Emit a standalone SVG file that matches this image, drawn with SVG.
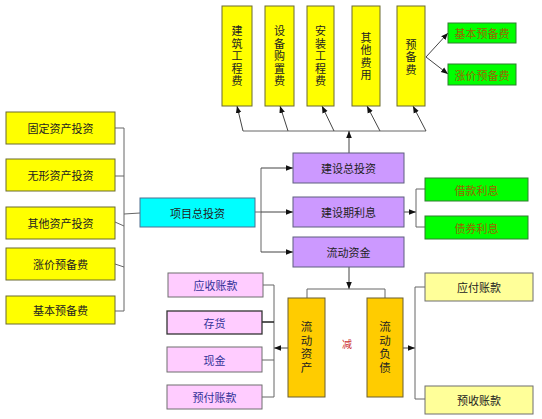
<svg xmlns="http://www.w3.org/2000/svg" width="542" height="419" viewBox="0 0 542 419">
<style>
text{font-family:"Noto Sans CJK SC","Noto Sans",sans-serif;font-size:11px;text-anchor:middle;dominant-baseline:central;fill:#222}
.v{writing-mode:tb;glyph-orientation-vertical:0;letter-spacing:1.5px}
.v2{writing-mode:tb;glyph-orientation-vertical:0;letter-spacing:2px;font-size:11.5px}
.y{fill:#FFFF00;stroke:#6b6b30;stroke-width:1}
.g{fill:#00FF00;stroke:#2f7f2f;stroke-width:1}
.gt{fill:#996600}
.p{fill:#CC99FF;stroke:#5f5f7f;stroke-width:1}
.c{fill:#00FFFF;stroke:#4f6f8f;stroke-width:1}
.k{fill:#FFCCFF;stroke:#6f6f6f;stroke-width:1}
.kt{fill:#333399}
.o{fill:#FFCC00;stroke:#6b5f30;stroke-width:1}
.ly{fill:#FFFF99;stroke:#6f6f6f;stroke-width:1}
.ln{fill:none;stroke:#666;stroke-width:1}
.ar{fill:none;stroke:#444;stroke-width:1;marker-end:url(#ah)}
</style>
<defs>
<marker id="ah" viewBox="0 0 10 10" refX="10" refY="5" markerWidth="7" markerHeight="7" orient="auto" markerUnits="userSpaceOnUse">
<path d="M0,1 L10,5 L0,9 z" fill="#111"/>
</marker>
</defs>
<rect width="542" height="419" fill="#fff"/>
<g id="connectors">
<polyline class="ln" points="243,131 426,131"/>
<line class="ar" x1="243" y1="131" x2="237" y2="106"/>
<line class="ar" x1="288" y1="131" x2="280" y2="106"/>
<line class="ar" x1="334" y1="131" x2="322" y2="106"/>
<line class="ar" x1="380" y1="131" x2="367" y2="106"/>
<line class="ar" x1="426" y1="131" x2="413" y2="106"/>
<line class="ar" x1="349" y1="153" x2="349" y2="131"/>
<line class="ar" x1="426" y1="57" x2="448" y2="33"/>
<line class="ar" x1="426" y1="57" x2="448" y2="74"/>
<polyline class="ln" points="115,128 124,128 124,311 115,311"/>
<line class="ln" x1="115" y1="176" x2="124" y2="176"/>
<line class="ln" x1="115" y1="222" x2="124" y2="226"/>
<line class="ln" x1="115" y1="264" x2="124" y2="267"/>
<line class="ln" x1="124" y1="214" x2="140" y2="213"/>
<line class="ln" x1="255" y1="212" x2="261" y2="212"/>
<polyline class="ln" points="261,168 261,252"/>
<line class="ar" x1="261" y1="168" x2="293" y2="168"/>
<line class="ar" x1="261" y1="212" x2="293" y2="212"/>
<line class="ar" x1="261" y1="252" x2="293" y2="252"/>
<line class="ar" x1="404" y1="212" x2="416" y2="212"/>
<polyline class="ln" points="425,189 416,189 416,227 425,227"/>
<line class="ar" x1="349" y1="267" x2="349" y2="289"/>
<polyline class="ln" points="307,298 307,289 385,289 385,298"/>
<line class="ar" x1="288" y1="348" x2="274" y2="348"/>
<polyline class="ln" points="263,285 274,285 274,397 262,397"/>
<line class="ln" x1="262" y1="322" x2="274" y2="322" style="stroke:#222;stroke-width:1.5"/>
<line class="ln" x1="262" y1="360" x2="274" y2="360"/>
<line class="ar" x1="403" y1="348" x2="415" y2="348"/>
<polyline class="ln" points="425,287 415,287 415,399 425,399"/>
</g>
<g id="n_jzgcf"><rect class="y" x="222" y="6" width="30" height="100"/><text class="v" x="237" y="57">建筑工程费</text></g>
<g id="n_sbgzf"><rect class="y" x="265" y="6" width="29" height="100"/><text class="v" x="279.5" y="57">设备购置费</text></g>
<g id="n_azgcf"><rect class="y" x="307" y="6" width="27" height="100"/><text class="v" x="320.5" y="57">安装工程费</text></g>
<g id="n_qtfy"><rect class="y" x="352" y="6" width="28" height="100"/><text class="v" x="366" y="57">其他费用</text></g>
<g id="n_ybf"><rect class="y" x="397" y="6" width="28" height="100"/><text class="v" x="411" y="58">预备费</text></g>
<g id="n_jbybf_top"><rect class="g" x="448" y="23" width="68" height="20"/><text class="gt" x="482" y="33">基本预备费</text></g>
<g id="n_zjybf_top"><rect class="g" x="448" y="64" width="68" height="21"/><text class="gt" x="482" y="74.5">涨价预备费</text></g>
<g id="n_gdzc"><rect class="y" x="6" y="112" width="109" height="32"/><text x="60.5" y="128">固定资产投资</text></g>
<g id="n_wxzc"><rect class="y" x="6" y="159" width="109" height="32"/><text x="60.5" y="175">无形资产投资</text></g>
<g id="n_qtzc"><rect class="y" x="6" y="207" width="109" height="32"/><text x="60.5" y="223">其他资产投资</text></g>
<g id="n_zjybf"><rect class="y" x="6" y="248" width="109" height="32"/><text x="60.5" y="264">涨价预备费</text></g>
<g id="n_jbybf"><rect class="y" x="6" y="296" width="109" height="28"/><text x="60.5" y="310">基本预备费</text></g>
<g id="n_xmztz"><rect class="c" x="140" y="198" width="115" height="29"/><text x="197.5" y="212.5">项目总投资</text></g>
<g id="n_jsztz"><rect class="p" x="293" y="153" width="111" height="30"/><text x="348.5" y="168">建设总投资</text></g>
<g id="n_jsqlx"><rect class="p" x="293" y="197" width="111" height="30"/><text x="348.5" y="212">建设期利息</text></g>
<g id="n_ldzj"><rect class="p" x="293" y="237" width="111" height="30"/><text x="348.5" y="252">流动资金</text></g>
<g id="n_jklx"><rect class="g" x="425" y="178" width="103" height="23"/><text class="gt" x="476.5" y="189.5">借款利息</text></g>
<g id="n_zqlx"><rect class="g" x="425" y="216" width="103" height="23"/><text class="gt" x="476.5" y="227.5">债券利息</text></g>
<g id="n_yszk"><rect class="k" x="168" y="273" width="95" height="24"/><text class="kt" x="215.5" y="285">应收账款</text></g>
<g id="n_ch"><rect class="k" x="167" y="311" width="95" height="23" style="stroke:#333;stroke-width:1.3"/><text class="kt" x="214.5" y="322.5">存货</text></g>
<g id="n_xj"><rect class="k" x="167" y="347" width="95" height="25"/><text class="kt" x="214.5" y="359.5">现金</text></g>
<g id="n_yfzk"><rect class="k" x="167" y="385" width="95" height="24"/><text class="kt" x="214.5" y="397">预付账款</text></g>
<g id="n_ldzc"><rect class="o" x="288" y="298" width="37" height="99"/><text class="v2" x="306.5" y="348">流动资产</text></g>
<g id="n_ldfz"><rect class="o" x="367" y="298" width="36" height="99"/><text class="v2" x="385" y="348">流动负债</text></g>
<text x="347" y="343" style="fill:#CC3333;font-size:10px">减</text>
<g id="n_yfzk2"><rect class="ly" x="425" y="273" width="108" height="28"/><text x="479" y="287">应付账款</text></g>
<g id="n_yszk2"><rect class="ly" x="425" y="386" width="108" height="28"/><text x="479" y="400">预收账款</text></g>
</svg>
